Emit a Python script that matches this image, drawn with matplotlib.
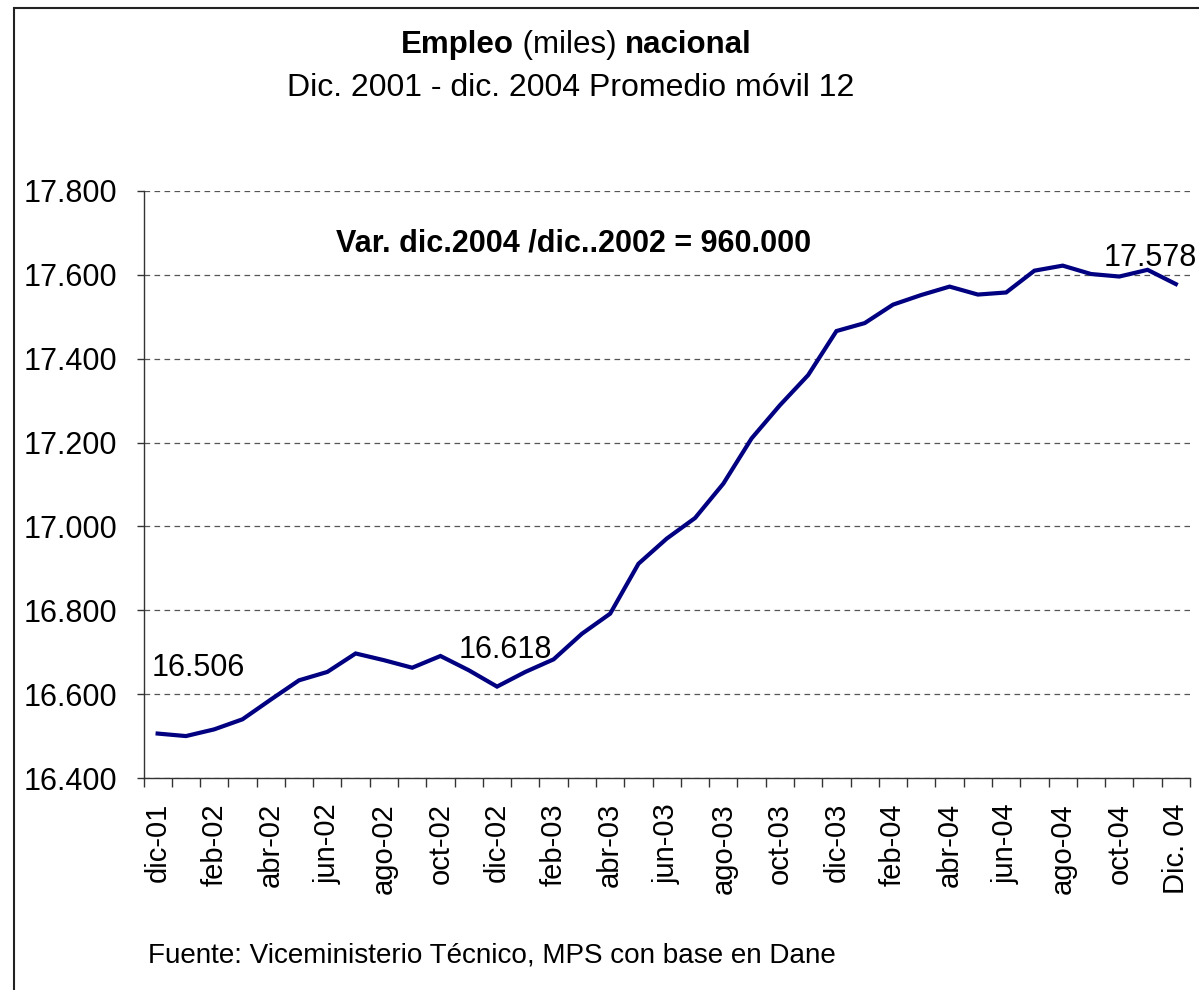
import matplotlib
matplotlib.use("Agg")
import matplotlib.pyplot as plt
from matplotlib.patches import Rectangle
from matplotlib.ticker import FixedLocator, FuncFormatter
from matplotlib.transforms import IdentityTransform

plt.rcParams['font.family'] = ['Liberation Sans', 'DejaVu Sans']

# Data (thousands of people employed, 12-month moving average)
months = ["dic-01", "ene-02", "feb-02", "mar-02", "abr-02", "may-02", "jun-02", "jul-02",
          "ago-02", "sep-02", "oct-02", "nov-02", "dic-02", "ene-03", "feb-03", "mar-03",
          "abr-03", "may-03", "jun-03", "jul-03", "ago-03", "sep-03", "oct-03", "nov-03",
          "dic-03", "ene-04", "feb-04", "mar-04", "abr-04", "may-04", "jun-04", "jul-04",
          "ago-04", "sep-04", "oct-04", "nov-04", "Dic. 04"]
empleo = [16506, 16500, 16516, 16540, 16587, 16633, 16653, 16697, 16681, 16663,
          16691, 16657, 16618, 16653, 16683, 16744, 16792, 16911, 16971, 17020,
          17102, 17210, 17289, 17361, 17466, 17485, 17529, 17552, 17572, 17553,
          17558, 17610, 17622, 17602, 17596, 17612, 17578]
y_ticks = [16400, 16600, 16800, 17000, 17200, 17400, 17600, 17800]
labeled_idx = [0, 12, 36]
labeled_txt = ["16.506", "16.618", "17.578"]

title_parts = [("Empleo", "bold"), (" (miles) ", "normal"), ("nacional", "bold")]
subtitle = "Dic. 2001 - dic. 2004 Promedio móvil 12"
annotation = "Var. dic.2004 /dic..2002 = 960.000"
source = "Fuente: Viceministerio Técnico, MPS con base en Dane"

FS = 22
W, H = 1199, 990
fig = plt.figure(figsize=(W / 100, H / 100), dpi=100)
fig.patch.set_facecolor("white")

# outer chart-area border (only left/top visible in reference)
fig.patches.append(Rectangle((14 / W, -0.1), 1.2, 1.1 - 8 / H, transform=fig.transFigure,
                             fill=False, edgecolor="#222222", linewidth=1.5))

ax = fig.add_axes([143.5 / W, 1 - 778 / H, (1190 - 143.5) / W, (778 - 191) / H])
x = list(range(len(months)))
ax.plot(x, empleo, color="#000080", linewidth=3.0, solid_joinstyle="miter", zorder=3)

ax.set_xlim(-0.5, len(months) - 0.5)
ax.set_ylim(y_ticks[0], y_ticks[-1])

for s in ["top", "right"]:
    ax.spines[s].set_visible(False)
for s in ["left", "bottom"]:
    ax.spines[s].set_color("#333333")
    ax.spines[s].set_linewidth(1.0)

ax.set_yticks(y_ticks)
ax.yaxis.set_major_formatter(FuncFormatter(lambda v, p: f"{int(v):,}".replace(",", ".")))
ax.tick_params(axis="y", length=5, width=1, color="#333333", labelsize=FS, pad=14)
ax.yaxis.grid(True, linestyle=(0, (4.5, 3.5)), color="#555555", linewidth=0.9)
ax.set_axisbelow(True)

major = list(range(0, len(months), 2))
ax.xaxis.set_major_locator(FixedLocator(major))
ax.set_xticklabels([months[i] for i in major], rotation=90, fontsize=21)
ax.xaxis.set_minor_locator(FixedLocator([i - 0.5 for i in range(len(months) + 1)]))
ax.tick_params(axis="x", which="major", length=0, pad=18)
ax.tick_params(axis="x", which="minor", length=6.5, width=1, color="#333333")

# data labels
ax.text(labeled_idx[0] + 1.45, 16662, labeled_txt[0], fontsize=FS, ha="center", va="center")
ax.text(labeled_idx[1] + 0.3, 16705, labeled_txt[1], fontsize=FS, ha="center", va="center")
ax.text(labeled_idx[2] - 0.9, 17640, labeled_txt[2], fontsize=FS, ha="center", va="center")

# annotation
fig.text(574 / W, 1 - 244 / H, annotation, fontsize=FS, fontweight="bold", ha="center", va="center")

# title with mixed weights, centered as a whole
pieces = [fig.text(0, 0, txt, fontsize=22.5, fontweight=wt, ha="left", va="center",
                   transform=IdentityTransform()) for txt, wt in title_parts]
fig.canvas.draw()
r = fig.canvas.get_renderer()
widths = [p.get_window_extent(r).width for p in pieces]
xp = 576 - sum(widths) / 2
for p, w in zip(pieces, widths):
    p.set_position((xp, H - 45))
    xp += w

fig.text(571 / W, 1 - 88 / H, subtitle, fontsize=23, ha="center", va="center")
fig.text(148 / W, 1 - 955 / H, source, fontsize=20.1, ha="left", va="center")

fig.savefig("out.png", dpi=100, facecolor="white")
